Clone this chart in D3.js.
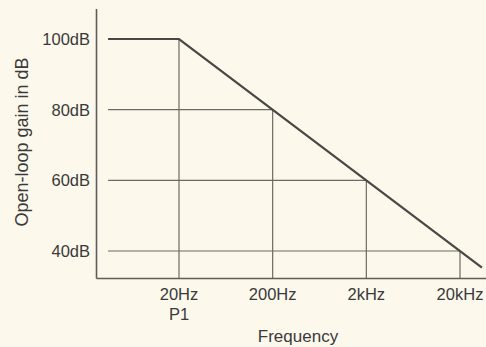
<!DOCTYPE html>
<html>
<head>
<meta charset="utf-8">
<script src="https://cdn.jsdelivr.net/npm/d3@7"></script>
<style>
  html, body { margin: 0; padding: 0; background: #fcf8ec; }
  svg { display: block; }
  text { font-family: "Liberation Sans", Arial, Helvetica, sans-serif; fill: #3a3a3a; }
</style>
</head>
<body>
<svg id="chart" width="486" height="347"></svg>
<script>
// Data
const gainTicks = [100, 80, 60, 40];
const gainLabels = ["100dB", "80dB", "60dB", "40dB"];
const freqTicks = [20, 200, 2000, 20000];
const freqLabels = ["20Hz", "200Hz", "2kHz", "20kHz"];
const freqSubLabels = ["P1", "", "", ""];
// Open-loop response (frequency in Hz, gain in dB)
const curveFreq = [3.5, 20, 34300];
const curveGain = [100, 100, 35.3];
// Marked corner points where gridlines meet the curve
const markFreq = [20, 200, 2000, 20000];
const markGain = [100, 80, 60, 40];
const gridStartFreq = 3.5;

const svg = d3.select("#chart");

const x = d3.scaleLog().domain([20, 20000]).range([179, 460]);
const y = d3.scaleLinear().domain([40, 100]).range([251, 39]);

const axisLeft = 96.5, axisBottom = 278.5, axisTop = 9, axisRight = 486;

// Horizontal gridlines (from gridStart to curve)
svg.append("g").selectAll("line").data(markGain).join("line")
  .attr("x1", x(gridStartFreq))
  .attr("x2", (d, i) => x(markFreq[i]))
  .attr("y1", d => y(d)).attr("y2", d => y(d))
  .attr("stroke", "#6c6a64").attr("stroke-width", 1.2);

// Vertical drop lines
svg.append("g").selectAll("line").data(markFreq).join("line")
  .attr("x1", d => x(d)).attr("x2", d => x(d))
  .attr("y1", (d, i) => y(markGain[i]))
  .attr("y2", axisBottom)
  .attr("stroke", "#6c6a64").attr("stroke-width", 1.2);

// Axes lines
svg.append("line")
  .attr("x1", axisLeft).attr("x2", axisLeft)
  .attr("y1", axisTop).attr("y2", axisBottom)
  .attr("stroke", "#5e5c58").attr("stroke-width", 1.6);
svg.append("line")
  .attr("x1", axisLeft).attr("x2", axisRight)
  .attr("y1", axisBottom).attr("y2", axisBottom)
  .attr("stroke", "#5e5c58").attr("stroke-width", 1.6);

// Curve
const pts = curveFreq.map((f, i) => [f, curveGain[i]]);
svg.append("path")
  .datum(pts)
  .attr("d", d3.line().x(d => x(d[0])).y(d => y(d[1])))
  .attr("fill", "none")
  .attr("stroke", "#4a4844")
  .attr("stroke-width", 2.2);

// Y tick labels
svg.append("g").selectAll("text").data(gainTicks).join("text")
  .attr("x", 90)
  .attr("y", d => y(d))
  .attr("dy", "0.36em")
  .attr("text-anchor", "end")
  .attr("font-size", 16.5)
  .text((d, i) => gainLabels[i]);

// X tick labels
svg.append("g").selectAll("text").data(freqTicks).join("text")
  .attr("x", d => x(d))
  .attr("y", 300)
  .attr("text-anchor", "middle")
  .attr("font-size", 16.5)
  .text((d, i) => freqLabels[i]);
svg.append("g").selectAll("text").data(freqTicks).join("text")
  .attr("x", d => x(d))
  .attr("y", 320)
  .attr("text-anchor", "middle")
  .attr("font-size", 16.5)
  .text((d, i) => freqSubLabels[i]);

// Axis titles
svg.append("text")
  .attr("x", 298).attr("y", 342)
  .attr("text-anchor", "middle")
  .attr("font-size", 17)
  .text("Frequency");
svg.append("text")
  .attr("transform", "translate(28,142) rotate(-90)")
  .attr("text-anchor", "middle")
  .attr("font-size", 18)
  .text("Open-loop gain in dB");
</script>
</body>
</html>
